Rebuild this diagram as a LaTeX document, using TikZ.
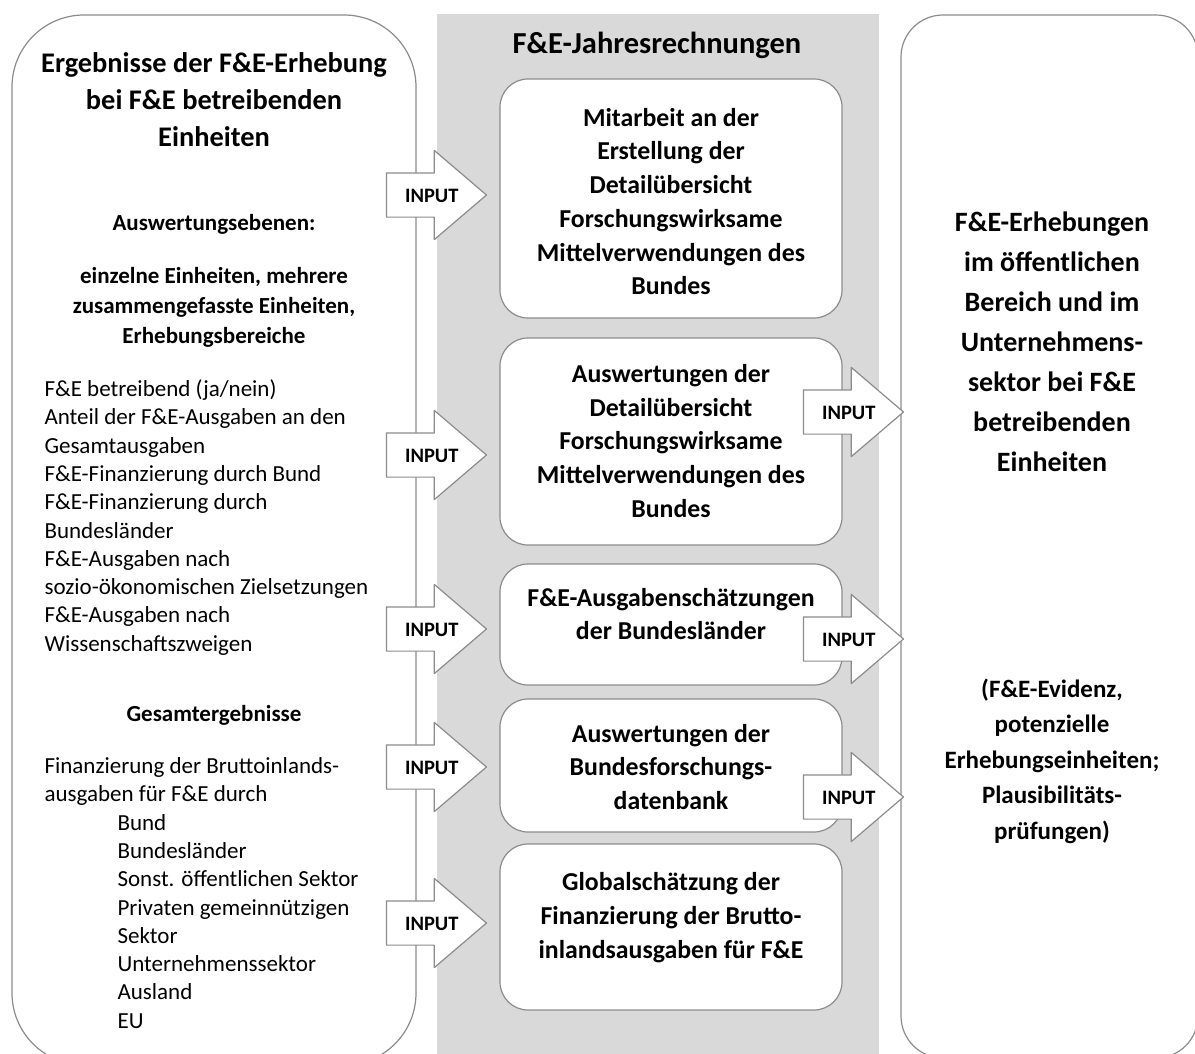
\documentclass[tikz,border=0pt]{standalone}
\usepackage{fontspec}
\setmainfont{Carlito}
\usepackage{tikz}
\usetikzlibrary{shapes.arrows}

\begin{document}
\begin{tikzpicture}
	[x=1pt,y=-1pt,line join=round,
	%Styles
	panel/.style={draw=framegray,line width=1.2pt,fill=white,inner sep=0pt},
	jbox/.style={draw=framegray,line width=1.2pt,fill=white,rounded corners=28pt,minimum width=342pt,inner sep=0pt},
	boxtext/.style={font=\bfseries\fontsize{25.8}{33.7}\selectfont,align=center},
	headtext/.style={font=\bfseries\fontsize{28.4}{37}\selectfont,align=center},
	subtext/.style={font=\bfseries\fontsize{23}{30}\selectfont,align=center},
	listtext/.style={font=\fontsize{23}{28.3}\selectfont,align=left,anchor=west},
	input arrow/.style={single arrow,draw=framegray,fill=white,line width=1.2pt,
		font=\bfseries\fontsize{20.5}{20.5}\selectfont,text width=70pt,align=right,
		text height=14pt,text depth=0pt,inner xsep=1.5pt,inner ysep=14.5pt,
		single arrow head extend=22.5pt,single arrow tip angle=81}
	]
	
	%Colors
	\colorlet{framegray}{black!45}
	\colorlet{bandgray}{black!15}
	
	\useasboundingbox (0,0) rectangle (1195,1053);
	\clip (0,0) rectangle (1195,1053);
	
	%The graphic
	\node[fill=bandgray,minimum width=442pt,minimum height=1046pt,inner sep=0pt] (band) at (658,537) {};
	\node[font=\bfseries\fontsize{30.5}{36}\selectfont] (bandtitle) at (657,45) {F\&E-Jahresrechnungen};
	
	\node[jbox,minimum height=239pt] (box1) at (671,198.5) {};
	\node[jbox,minimum height=207pt] (box2) at (671,441.5) {};
	\node[jbox,minimum height=121pt] (box3) at (671,624.5) {};
	\node[jbox,minimum height=133pt] (box4) at (671,765.5) {};
	\node[jbox,minimum height=166pt] (box5) at (671,927) {};
	
	\node[boxtext] (t1) at (671,201.5) {Mitarbeit an der\\Erstellung der\\Detailübersicht\\Forschungswirksame\\Mittelverwendungen des\\Bundes};
	\node[boxtext] (t2) at (671,441) {Auswertungen der\\Detailübersicht\\Forschungswirksame\\Mittelverwendungen des\\Bundes};
	\node[boxtext] (t3) at (671,614) {F\&E-Ausgabenschätzungen\\der Bundesländer};
	\node[boxtext] (t4) at (671,767) {Auswertungen der\\Bundesforschungs-\\datenbank};
	\node[boxtext] (t5) at (671,917.5) {Globalschätzung der\\Finanzierung der Brutto-\\inlandsausgaben für F\&E};
	
	% left panel
	\node[panel,rounded corners=72pt,minimum width=404pt,minimum height=1050pt] (results) at (214,540) {};
	\node[headtext] (resultstitle) at (214,100) {Ergebnisse der F\&E-Erhebung\\bei F\&E betreibenden\\Einheiten};
	\node[subtext] (levels) at (214,224) {Auswertungsebenen:};
	\node[subtext] (units) at (214,307) {einzelne Einheiten, mehrere\\zusammengefasste Einheiten,\\Erhebungsbereiche};
	\node[listtext] (items) at (41,517.5) {F\&E betreibend (ja/nein)\\Anteil der F\&E-Ausgaben an den\\Gesamtausgaben\\F\&E-Finanzierung durch Bund\\F\&E-Finanzierung durch\\Bundesländer\\F\&E-Ausgaben nach\\sozio-ökonomischen Zielsetzungen\\F\&E-Ausgaben nach\\Wissenschaftszweigen};
	\node[subtext] (total) at (214,715) {Gesamtergebnisse};
	\node[listtext] (financing) at (41,893) {Finanzierung der Bruttoinlands-\\ausgaben für F\&E durch\\
		\hspace*{73pt}Bund\\\hspace*{73pt}Bundesländer\\\hspace*{73pt}Sonst. öffentlichen Sektor\\
		\hspace*{73pt}Privaten gemeinnützigen\\\hspace*{73pt}Sektor\\\hspace*{73pt}Unternehmenssektor\\
		\hspace*{73pt}Ausland\\\hspace*{73pt}EU};
	
	% right panel
	\node[panel,rounded corners=42pt,minimum width=297pt,minimum height=1043pt] (surveys) at (1049.5,536.5) {};
	\node[headtext,font=\bfseries\fontsize{28}{40}\selectfont] (surveystitle) at (1052,341.5) {F\&E-Erhebungen\\im öffentlichen\\Bereich und im\\Unternehmens-\\sektor bei F\&E\\betreibenden\\Einheiten};
	\node[boxtext,font=\bfseries\fontsize{25}{35.5}\selectfont] (evidence) at (1052,761) {(F\&E-Evidenz,\\potenzielle\\Erhebungseinheiten;\\Plausibilitäts-\\prüfungen)};
	
	% input arrows
	\foreach \y [count=\i] in {195,455,629,767,923}
		\node[input arrow] (inL\i) at (423.5,\y) {INPUT};
	\foreach \y [count=\i] in {412,639,797}
		\node[input arrow] (inR\i) at (840.5,\y) {INPUT};
\end{tikzpicture}
\end{document}
